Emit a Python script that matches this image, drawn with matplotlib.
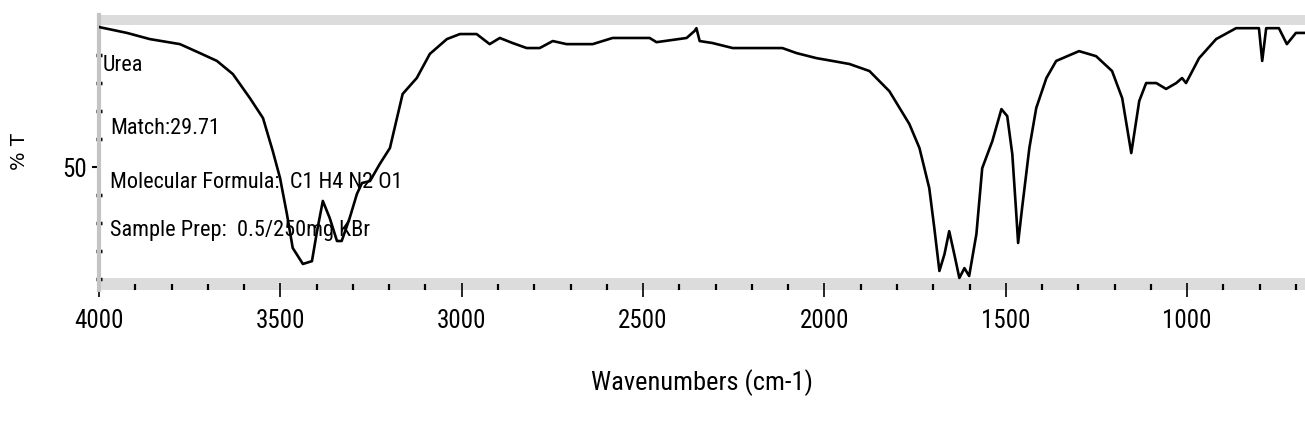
import matplotlib
matplotlib.use("Agg")
import matplotlib.pyplot as plt
from matplotlib import font_manager
from matplotlib.ticker import FixedLocator, MultipleLocator

# IR spectrum of urea
wavenumber = [
    4000, 3923, 3860, 3777, 3722, 3675, 3631, 3584, 3548, 3521, 3501, 3482,
    3466, 3438, 3413, 3399, 3383, 3364, 3344, 3331, 3309, 3289, 3275, 3253,
    3226, 3198, 3163, 3124, 3088, 3041, 3005, 2959, 2923, 2895, 2860, 2821,
    2785, 2749, 2711, 2639, 2584, 2482, 2463, 2380, 2358, 2353, 2344, 2309,
    2253, 2116, 2077, 2022, 1978, 1931, 1876, 1821, 1766, 1738, 1711, 1697,
    1683, 1669, 1656, 1642, 1628, 1614, 1601, 1581, 1565, 1537, 1512, 1496,
    1482, 1471, 1466, 1455, 1435, 1416, 1388, 1361, 1298, 1251, 1207, 1179,
    1154, 1132, 1113, 1085, 1058, 1030, 1014, 1003, 967, 920, 865, 802,
    793, 782, 747, 725, 700, 678,
]
transmittance = [
    100.0, 97.9, 95.7, 93.9, 90.7, 87.9, 83.2, 74.6, 67.5, 55.7, 46.1, 33.2,
    21.1, 15.4, 16.4, 27.1, 37.9, 31.8, 23.6, 23.6, 31.8, 40.4, 44.3, 45.0,
    51.1, 56.8, 76.1, 81.8, 90.4, 95.7, 97.5, 97.5, 93.9, 96.1, 94.3, 92.5,
    92.5, 95.0, 93.9, 93.9, 96.1, 96.1, 94.6, 96.1, 98.6, 99.6, 95.0, 94.3,
    92.5, 92.5, 90.7, 88.9, 87.9, 86.8, 84.3, 77.1, 65.4, 56.8, 42.5, 28.2,
    12.9, 18.9, 27.1, 18.9, 10.4, 13.9, 11.1, 26.1, 49.6, 59.3, 70.7, 68.2,
    54.6, 33.2, 22.9, 35.4, 56.8, 71.1, 81.8, 87.9, 91.4, 89.6, 84.3, 74.6,
    55.0, 73.6, 80.0, 80.0, 77.9, 80.0, 81.8, 80.0, 88.9, 95.7, 99.6, 99.6,
    87.9, 99.6, 99.6, 93.9, 97.9, 97.9,
]

x_major = [4000, 3500, 3000, 2500, 2000, 1500, 1000]
y_ticks = [10, 20, 30, 40, 50, 60, 70, 80, 90]
info_lines = [
    "Urea",
    "Match:29.71",
    "Molecular Formula:  C1 H4 N2 O1",
    "Sample Prep:  0.5/250mg KBr",
]

# the printout uses a very condensed face; take the narrowest one installed
installed = {f.name for f in font_manager.fontManager.ttflist}
narrow_pref = ["Liberation Sans Narrow", "DejaVu Sans Condensed", "Roboto Condensed",
               "Open Sans Condensed", "Liberation Sans", "Roboto"]
NARROW = next((n for n in narrow_pref if n in installed), "DejaVu Sans")
is_condensed = NARROW in narrow_pref[:4]
tick_size = 18 if is_condensed else 15
info_size = 16 if is_condensed else 13

BAND = "#dcdcdc"

fig = plt.figure(figsize=(13.05, 4.40), dpi=100)
ax = fig.add_axes([0.0759, 0.3409, 0.9241, 0.625])

ax.set_xlim(4000, 675)
ax.set_ylim(6.1, 104.3)

# grey frame bands, as in the instrument printout
ax.axhspan(100.7, 104.3, color=BAND, lw=0, zorder=0)
ax.axhspan(6.1, 10.4, color=BAND, lw=0, zorder=0)

ax.plot(wavenumber, transmittance, color="black", lw=1.9, zorder=3)

for side in ["top", "right", "bottom"]:
    ax.spines[side].set_visible(False)
ax.spines["left"].set_color("#c4c4c4")
ax.spines["left"].set_linewidth(3)

ax.xaxis.set_major_locator(FixedLocator(x_major))
ax.xaxis.set_minor_locator(MultipleLocator(100))
ax.tick_params(axis="x", which="major", direction="inout", length=10, width=1.2,
               pad=9, labelsize=tick_size)
ax.tick_params(axis="x", which="minor", direction="in", length=4, width=1.6)
for lab in ax.get_xticklabels():
    lab.set_family(NARROW)

ax.yaxis.set_major_locator(FixedLocator([50]))
ax.yaxis.set_minor_locator(FixedLocator([t for t in y_ticks if t != 50]))
ax.set_yticklabels(["50"])
ax.tick_params(axis="y", which="major", direction="out", length=5, width=1.5,
               pad=4, labelsize=tick_size)
ax.tick_params(axis="y", which="minor", direction="inout", length=4, width=2.5,
               color="black")
for lab in ax.get_yticklabels():
    lab.set_family(NARROW)

ax.text(3990, 86.1, info_lines[0], ha="left", va="center", fontsize=info_size,
        family=NARROW, zorder=4)
for txt, yy in zip(info_lines[1:], [63.9, 44.6, 27.5]):
    ax.text(3970, yy, txt, ha="left", va="center", fontsize=info_size,
            family=NARROW, zorder=4)

ax.set_xlabel("Wavenumbers (cm-1)", family=NARROW, fontsize=19, labelpad=26)
fig.text(0.0153, 0.6545, "% T", rotation=90, ha="center", va="center",
         fontsize=14, family="DejaVu Sans")

fig.savefig("out.png", dpi=100)
plt.close(fig)
